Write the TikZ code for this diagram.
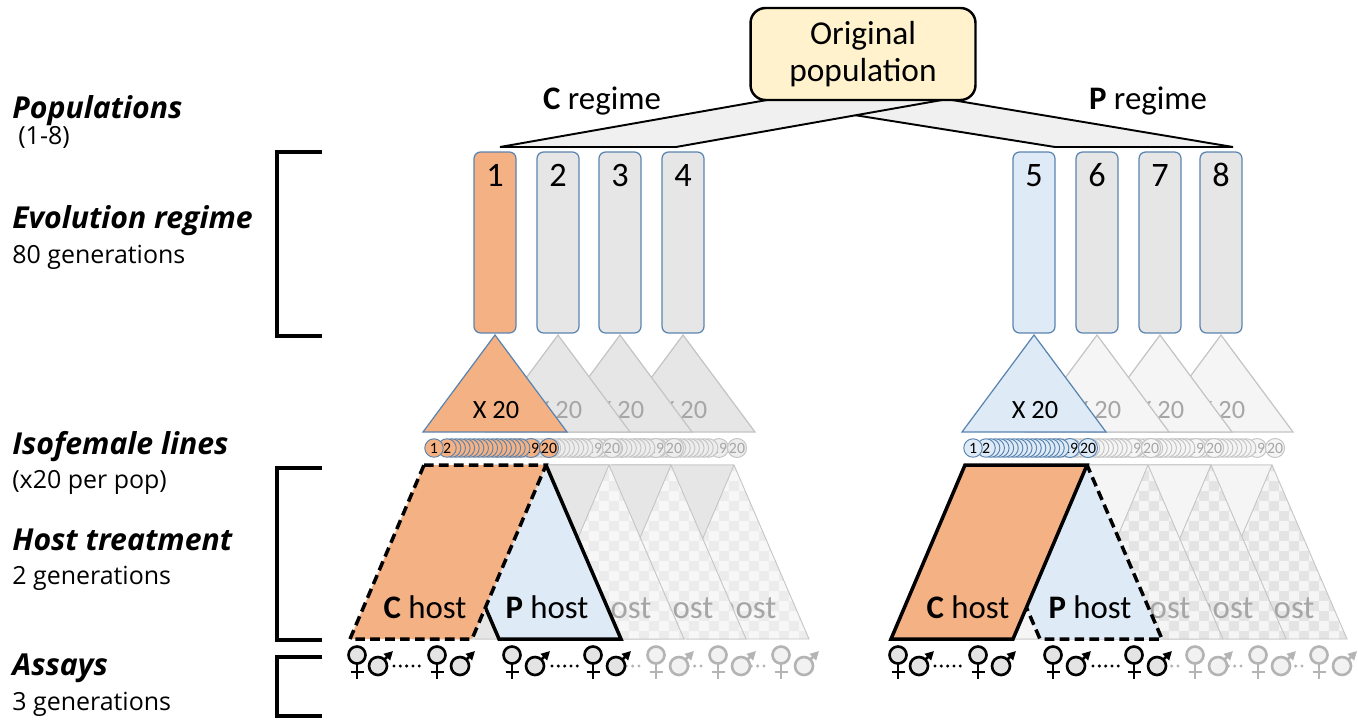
\documentclass[tikz,border=0pt]{standalone}
\usepackage{fontspec}
\setmainfont{Carlito}
\newfontfamily\labfont{Open Sans}
\usetikzlibrary{patterns,arrows.meta}
\definecolor{orng}{HTML}{F4B183}
\definecolor{lblue}{HTML}{DEEBF7}
\definecolor{boxgray}{HTML}{E6E6E6}
\definecolor{bordblue}{HTML}{5A84B0}
\definecolor{ylw}{HTML}{FFF2CC}
\definecolor{wedgefill}{HTML}{F0F0F0}
\definecolor{txtgray}{HTML}{A6A6A6}
\definecolor{edgegray}{HTML}{C4C4C4}
\definecolor{ltgray}{HTML}{F5F5F5}
\definecolor{chkA}{HTML}{E4E4E4}
\definecolor{chkBg}{HTML}{F7F7F7}
\definecolor{symfill}{HTML}{E4E4E4}
\definecolor{gsymline}{HTML}{B4B4B4}
\definecolor{gsymfill}{HTML}{F2F2F2}
\definecolor{isogray}{HTML}{EDEDED}
\begin{document}
\begin{tikzpicture}[x=0.02cm,y=-0.02cm,
  dtext/.style={inner sep=0, font=\fontsize{18.7}{21.5}\selectfont},
  xtext/.style={inner sep=0, font=\fontsize{15}{17}\selectfont},
  labB/.style={inner sep=0, anchor=base west, font=\fontsize{17.2}{19}\labfont\bfseries\itshape},
  labR/.style={inner sep=0, anchor=base west, font=\fontsize{14.2}{16}\labfont},
  wedgestyle/.style={draw=black, line width=1.1pt, fill=wedgefill, line join=miter},
  origbox/.style={draw=black, line width=1.4pt, fill=ylw, rounded corners=0.3cm,
    minimum width=4.5cm, minimum height=1.84cm, align=center, inner sep=0,
    font=\fontsize{19}{21.5}\selectfont},
  popbox/.style={draw=bordblue, line width=0.7pt, rounded corners=0.13cm,
    minimum width=0.84cm, minimum height=3.62cm, inner sep=0},
  isotri/.style={line width=0.7pt, line join=miter},
  isoc/.style={circle, minimum size=0.37cm, inner sep=0, line width=0.55pt,
    font=\fontsize{9}{9}\selectfont},
  chkC/.style={preaction={fill=chkBg}, pattern=checkerboard, pattern color=chkA!70, draw=edgegray, line width=0.5pt},
  chkP/.style={preaction={fill=ltgray}, pattern=checkerboard, pattern color=chkA, draw=edgegray, line width=0.5pt},
  graysolid/.style={fill=boxgray, draw=edgegray, line width=0.5pt},
  graylight/.style={fill=ltgray, draw=edgegray, line width=0.5pt},
  hostline/.style={draw=black, line width=2pt, line join=miter},
  hostdash/.style={draw=black, line width=2pt, dash pattern=on 5.5pt off 3pt, line join=miter},
  brk/.style={draw=black, line width=2.3pt, line join=miter},
  symb/.style={draw=black, fill=symfill, line width=1.5pt},
  gsymb/.style={draw=gsymline, fill=gsymfill, line width=1.5pt},
  dotline/.style={line width=1.9pt, line cap=round, dash pattern=on 0pt off 3.6pt},
  fem/.pic={\draw[pic actions] (0,0) circle[radius=8.5];
            \draw[pic actions] (0,8.5) -- (0,24) (-6.5,17) -- (6.5,17);},
  mal/.pic={\draw[pic actions] (0,0) circle[radius=9];
            \draw[pic actions, -{Triangle[length=5pt,width=5pt]}] (6.3,-6.3) -- (15,-15);}
]
\useasboundingbox (0,0) rectangle (1358,720);

% ---------- wedges and original population ----------
\draw[wedgestyle] (760,100) -- (952,100) -- (1233,147) -- (1055,147) -- cycle;
\draw[wedgestyle] (767,100) -- (942,100) -- (676,147) -- (500,147) -- cycle;
\node[origbox] (orig) at (863,54) {Original\\population};
\node[dtext, anchor=base] (creg) at (602,109) {\textbf{C} regime};
\node[dtext, anchor=base] (preg) at (1148,109) {\textbf{P} regime};

% ---------- population boxes ----------
\foreach \cx/\n/\f in {495/1/orng, 558/2/boxgray, 620/3/boxgray, 683/4/boxgray,
                       1034/5/lblue, 1097/6/boxgray, 1160/7/boxgray, 1221/8/boxgray}{
  \node[popbox, fill=\f] (pop\n) at (\cx,242.5) {};
  \node[dtext, anchor=base, font=\fontsize{19.5}{21}\selectfont] (popn\n) at (\cx,186) {\n};
}

% ---------- isofemale triangles ----------
\foreach \cx/\k in {683/4,620/3,558/2}{
  \draw[isotri, fill=boxgray, draw=edgegray] (\cx,335) -- (\cx+72,432) -- (\cx-72,432) -- cycle;
  \node[xtext, text=txtgray, anchor=base] (xt\k) at (\cx+1,418) {X 20};
}
\draw[isotri, fill=orng, draw=bordblue] (495,335) -- (567,432) -- (423,432) -- cycle;
\node[xtext, anchor=base] (xt1) at (496,418) {X 20};

\foreach \cx/\k in {1221/8,1160/7,1097/6}{
  \draw[isotri, fill=ltgray, draw=edgegray] (\cx,335) -- (\cx+72,432) -- (\cx-72,432) -- cycle;
  \node[xtext, text=txtgray, anchor=base] (xt\k) at (\cx+1,418) {X 20};
}
\draw[isotri, fill=lblue, draw=bordblue] (1034,335) -- (1106,432) -- (962,432) -- cycle;
\node[xtext, anchor=base] (xt5) at (1035,418) {X 20};

% ---------- isofemale circles ----------
\foreach \o/\k/\f/\d/\t in {188/4/isogray/edgegray/txtgray, 125/3/isogray/edgegray/txtgray,
                            63/2/isogray/edgegray/txtgray, 0/1/orng/bordblue/black,
                            726/8/ltgray/edgegray/txtgray, 665/7/ltgray/edgegray/txtgray,
                            602/6/ltgray/edgegray/txtgray, 539/5/lblue/bordblue/black}{
  \foreach \i in {19,18,...,2}{
    \pgfmathsetmacro\xx{\i==19 ? 531+\o : 447+(\i-2)*4.6+\o}
    \node[isoc, fill=\f, draw=\d, text=\t] (c\k-\i) at (\xx,448) {\ifnum\i=2 2\fi\ifnum\i=19 19\fi};
  }
  \node[isoc, fill=\f, draw=\d, text=\t] (c\k-1) at (434+\o,448) {1};
  \node[isoc, fill=\f, draw=\d, text=\t] (c\k-20) at (549+\o,448) {20};
}

% ---------- host treatment, C regime side ----------
\foreach \cx/\k in {683/4,620/3,558/2}{
  \draw[chkC] (\cx-71,465) -- (\cx+51,465) -- (\cx+126,639) -- (\cx+4,639) -- cycle;
  \node[dtext, text=txtgray, anchor=base] (ph\k) at (\cx+52,618) {\textbf{P} host};
  \draw[graysolid] (\cx-71,465) -- (\cx+51,465) -- (\cx-23,639) -- (\cx-145,639) -- cycle;
}
\fill[lblue] (424,465) -- (546,465) -- (621,639) -- (499,639) -- cycle;
\draw[hostline] (424,465) -- (499,639) -- (621,639) -- (546,465);
\node[dtext, anchor=base] (ph1) at (547,618) {\textbf{P} host};
\draw[hostdash, fill=orng] (424,465) -- (546,465) -- (472,639) -- (350,639) -- cycle;
\node[dtext, anchor=base] (ch1) at (425,618) {\textbf{C} host};

% ---------- host treatment, P regime side ----------
\foreach \cx/\k in {1221/8,1160/7,1097/6}{
  \draw[chkP] (\cx-71,465) -- (\cx+51,465) -- (\cx+126,639) -- (\cx+4,639) -- cycle;
  \node[dtext, text=txtgray, anchor=base] (ph\k) at (\cx+52,618) {\textbf{P} host};
  \draw[graylight] (\cx-71,465) -- (\cx+51,465) -- (\cx-23,639) -- (\cx-145,639) -- cycle;
}
\fill[lblue] (965,465) -- (1087,465) -- (1162,639) -- (1040,639) -- cycle;
\draw[hostdash] (965,465) -- (1040,639) -- (1162,639) -- (1087,465);
\node[dtext, anchor=base] (ph5) at (1090,618) {\textbf{P} host};
\draw[hostline, fill=orng] (965,465) -- (1087,465) -- (1013,639) -- (891,639) -- cycle;
\node[dtext, anchor=base] (ch5) at (968,618) {\textbf{C} host};

% ---------- assay symbols ----------
\foreach \cx in {683,620,558,1221,1160,1097}{
  \draw[dotline, gsymline] (\cx+62,666) -- (\cx+84,666);
  \pic[gsymb] at (\cx+98,655) {fem};
  \pic[gsymb] at (\cx+121,666) {mal};
}
\foreach \cx in {495,1036}{
  \pic[symb] at (\cx-138,655) {fem};
  \pic[symb] at (\cx-117,666) {mal};
  \draw[dotline] (\cx-101,666) -- (\cx-73,666);
  \pic[symb] at (\cx-58,655) {fem};
  \pic[symb] at (\cx-35,666) {mal};
  \pic[symb] at (\cx+17,655) {fem};
  \pic[symb] at (\cx+40,666) {mal};
  \draw[dotline] (\cx+57,666) -- (\cx+84,666);
  \pic[symb] at (\cx+98,655) {fem};
  \pic[symb] at (\cx+121,666) {mal};
}

% ---------- left labels and brackets ----------
\node[labB] (lpop) at (12,118) {Populations};
\node[labR] (lpopn) at (18,144) {(1-8)};
\node[labB] (levo) at (12,228) {Evolution regime};
\node[labR] (levon) at (12,263) {80 generations};
\node[labB] (liso) at (12,454) {Isofemale lines};
\node[labR] (lison) at (12,488) {(x20 per pop)};
\node[labB] (lhost) at (12,550) {Host treatment};
\node[labR] (lhostn) at (12,584) {2 generations};
\node[labB] (lass) at (12,675) {Assays};
\node[labR] (lassn) at (12,710) {3 generations};

\draw[brk] (322,152) -- (277,152) -- (277,336) -- (322,336);
\draw[brk] (322,468) -- (277,468) -- (277,640) -- (322,640);
\draw[brk] (322,657) -- (277,657) -- (277,716) -- (322,716);
\end{tikzpicture}
\end{document}
